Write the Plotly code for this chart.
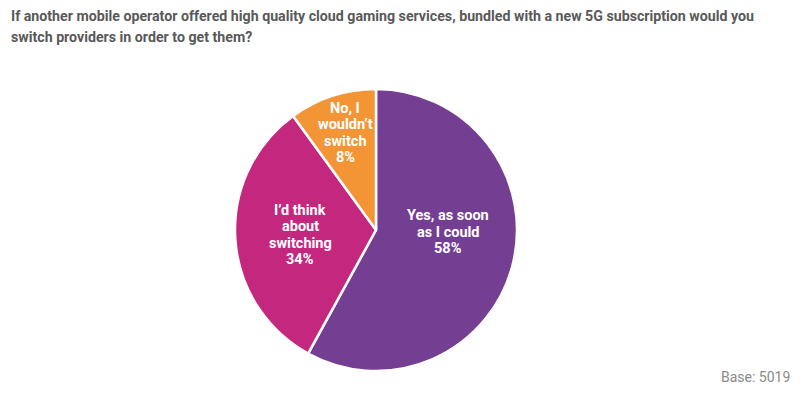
import plotly.graph_objects as go

labels = ["Yes, as soon as I could", "I\u2019d think about switching", "No, I wouldn\u2019t switch"]
# slice sizes as drawn in the picture (angles)
values = [58, 32, 10]
# percentages as printed on the slices
pct_labels = ["58%", "34%", "8%"]
label_lines = [["Yes, as soon", "as I could"], ["I\u2019d think", "about", "switching"], ["No, I", "wouldn\u2019t", "switch"]]
colors = ["#743E93", "#C4287E", "#F39534"]
title_lines = [
    "If another mobile operator offered high quality cloud gaming services, bundled with a new 5G subscription would you",
    "switch providers in order to get them?",
]
base_note = "Base: 5019"

W, H = 803, 395
cx, cy, r = 376, 230, 141
# label block centres, relative to pie centre (pixels)
label_offsets = [(72, 2), (-76, 5), (-31, -97)]
line_gap = 16.6

fig = go.Figure(go.Pie(
    labels=labels,
    values=values,
    textinfo="none",
    sort=False,
    direction="clockwise",
    rotation=0,
    marker=dict(colors=colors, line=dict(color="white", width=2.5)),
    hoverinfo="label",
    showlegend=False,
    domain=dict(x=[(cx - r) / W, (cx + r) / W], y=[1 - (cy + r) / H, 1 - (cy - r) / H]),
))

annotations = []
for lines, p, (dx, dy) in zip(label_lines, pct_labels, label_offsets):
    all_lines = lines + [p]
    n = len(all_lines)
    for i, t in enumerate(all_lines):
        y = cy + dy + (i - (n - 1) / 2) * line_gap
        annotations.append(dict(
            text=t, x=(cx + dx) / W, y=1 - y / H, xref="paper", yref="paper",
            xanchor="center", yanchor="middle", showarrow=False,
            font=dict(family="Roboto", size=14.5, color="white", weight="bold"),
        ))

for i, t in enumerate(title_lines):
    annotations.append(dict(
        text=t, x=9 / W, y=1 - (16 + 21 * i) / H, xref="paper", yref="paper",
        xanchor="left", yanchor="middle", showarrow=False,
        font=dict(family="Roboto", size=14.2, color="#595959", weight="bold"),
    ))

annotations.append(dict(
    text=base_note, x=792 / W, y=1 - 377 / H, xref="paper", yref="paper",
    xanchor="right", yanchor="middle", showarrow=False,
    font=dict(family="Roboto", size=14, color="#8A8A8A"),
))

fig.update_layout(
    width=W, height=H,
    margin=dict(l=0, r=0, t=0, b=0),
    paper_bgcolor="white",
    plot_bgcolor="white",
    font=dict(family="Roboto"),
    annotations=annotations,
)

fig.write_html("out.html", config={"displayModeBar": False},
               post_script="document.body.style.margin='0';")
